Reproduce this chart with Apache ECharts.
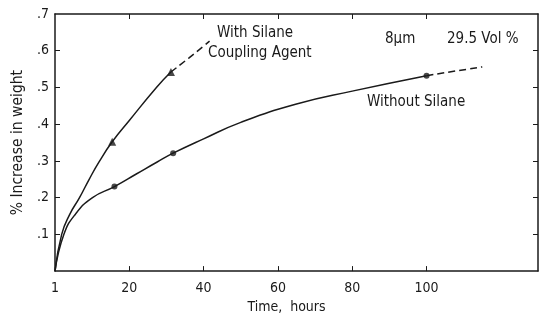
<!DOCTYPE html>
<html>
<head>
<meta charset="utf-8">
<script src="https://cdn.jsdelivr.net/npm/echarts@6/dist/echarts.min.js"></script>
<style>
  html, body { margin: 0; padding: 0; background: #fff; }
  #chart { width: 540px; height: 319px; }
</style>
</head>
<body>
<div id="chart"></div>
<script>
// values (hours, % increase in weight)
var silaneCurve = [[0, 0], [1.8, 0.1], [4, 0.155], [6.6, 0.2], [9.2, 0.25], [11.9, 0.298], [15.4, 0.352], [20, 0.41], [27.3, 0.5], [31.2, 0.542]];
var silaneDash = [[31.2, 0.542], [36, 0.58], [41.6, 0.626]];
var silanePts = [[15.4, 0.352], [31.2, 0.542]];

var plainCurve = [[0, 0], [2.4, 0.1], [5.5, 0.155], [10.1, 0.2], [16, 0.23], [22, 0.265], [27.5, 0.297], [31.8, 0.321], [40, 0.36], [50, 0.405], [65, 0.455], [80, 0.49], [100, 0.532]];
var plainDash = [[100, 0.532], [108, 0.545], [115, 0.556]];
var plainPts = [[16, 0.23], [31.8, 0.321], [100, 0.532]];

var xTicks = [20, 40, 60, 80, 100];
var xLabels = [0, 20, 40, 60, 80, 100];
var yTicks = [0.1, 0.2, 0.3, 0.4, 0.5, 0.6];
var yLabels = [0.1, 0.2, 0.3, 0.4, 0.5, 0.6, 0.7];

var ink = '#1a1a1a';
var font = 'DejaVu Sans Condensed';
var textFont = '15px "DejaVu Sans Condensed"';

var chart = echarts.init(document.getElementById('chart'));

function lineSeries(data, dashed) {
    return {
        type: 'line',
        data: data,
        smooth: 0.5,
        showSymbol: false,
        symbol: 'none',
        silent: true,
        lineStyle: { color: ink, width: 1.5, type: dashed ? [7, 4] : 'solid' },
        z: 2
    };
}

var option = {
    animation: false,
    backgroundColor: '#fff',
    grid: { left: 55, right: 2, top: 14, bottom: 43 },
    xAxis: [{
        type: 'value', min: 0, max: 130,
        name: 'Time,  hours', nameLocation: 'middle', nameGap: 24,
        nameTextStyle: { color: ink, fontSize: 14, fontFamily: font, padding: [0, 20, 0, 0] },
        axisLine: { onZero: false, lineStyle: { color: ink, width: 1.5 } },
        axisTick: { inside: true, length: 5, customValues: xTicks, lineStyle: { color: ink } },
        axisLabel: {
            customValues: xLabels, color: ink, fontSize: 14, fontFamily: font, margin: 10,
            formatter: function (v) { return v === 0 ? '1' : String(v); }
        },
        splitLine: { show: false }
    }, {
        type: 'value', min: 0, max: 130, position: 'top',
        axisLine: { show: true, onZero: false, lineStyle: { color: ink, width: 1.5 } },
        axisTick: { show: true, inside: true, length: 5, customValues: xTicks, lineStyle: { color: ink } },
        axisLabel: { show: false },
        splitLine: { show: false }
    }],
    yAxis: [{
        type: 'value', min: 0, max: 0.7,
        name: '% Increase in weight', nameLocation: 'middle', nameGap: 27,
        nameTextStyle: { color: ink, fontSize: 15.5, fontFamily: font },
        axisLine: { show: true, onZero: false, lineStyle: { color: ink, width: 1.5 } },
        axisTick: { show: true, inside: true, length: 5, customValues: yTicks, lineStyle: { color: ink } },
        axisLabel: {
            customValues: yLabels, color: ink, fontSize: 14, fontFamily: font, margin: 6,
            formatter: function (v) { return '.' + Math.round(v * 10); }
        },
        splitLine: { show: false }
    }, {
        type: 'value', min: 0, max: 0.7, position: 'right',
        axisLine: { show: true, onZero: false, lineStyle: { color: ink, width: 1.5 } },
        axisTick: { show: true, inside: true, length: 5, customValues: yTicks, lineStyle: { color: ink } },
        axisLabel: { show: false },
        splitLine: { show: false }
    }],
    series: [
        lineSeries(silaneCurve, false),
        lineSeries(silaneDash, true),
        lineSeries(plainCurve, false),
        lineSeries(plainDash, true),
        {
            type: 'scatter', data: silanePts, symbol: 'triangle', symbolSize: 8,
            itemStyle: { color: ink }, z: 3
        },
        {
            type: 'scatter', data: plainPts, symbol: 'circle', symbolSize: 6,
            itemStyle: { color: ink }, z: 3
        }
    ],
    graphic: [
        { type: 'text', left: 217, top: 26, style: { text: 'With Silane', fill: ink, font: textFont } },
        { type: 'text', left: 208, top: 46, style: { text: 'Coupling Agent', fill: ink, font: textFont } },
        { type: 'text', left: 385, top: 32, style: { text: '8\u03bcm', fill: ink, font: textFont } },
        { type: 'text', left: 447, top: 32, style: { text: '29.5 Vol %', fill: ink, font: textFont } },
        { type: 'text', left: 367, top: 95, style: { text: 'Without Silane', fill: ink, font: textFont } }
    ]
};

chart.setOption(option);
</script>
</body>
</html>
